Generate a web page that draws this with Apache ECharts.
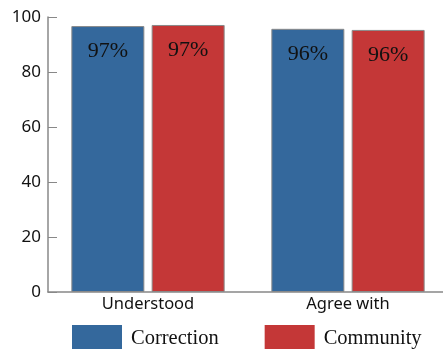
<!DOCTYPE html>
<html>
<head>
<meta charset="utf-8">
<script src="https://cdn.jsdelivr.net/npm/echarts@6/dist/echarts.min.js"></script>
<style>
  html, body { margin: 0; padding: 0; background: #fff; }
  #chart { width: 443px; height: 349px; }
</style>
</head>
<body>
<div id="chart"></div>
<script>
// data
const categories = ['Understood', 'Agree with'];
const correctionValues = [96.7, 95.7];
const communityValues = [97.1, 95.3];
const correctionLabels = ['97%', '96%'];
const communityLabels = ['97%', '96%'];

const chart = echarts.init(document.getElementById('chart'));

const barLabel = (labels) => ({
  show: true,
  position: 'insideTop',
  distance: 14,
  color: '#111',
  fontSize: 22,
  fontFamily: 'Liberation Serif',
  formatter: (p) => labels[p.dataIndex]
});

chart.setOption({
  animation: false,
  grid: { left: 48, width: 400, top: 17, bottom: 57, outerBoundsMode: 'none' },
  legend: {
    left: 67,
    top: 320,
    width: 430,
    itemWidth: 50,
    itemHeight: 27,
    itemGap: 46,
    icon: 'rect',
    itemStyle: { borderWidth: 0 },
    textStyle: { fontSize: 20.5, fontFamily: 'Liberation Serif', color: '#111', padding: [0, 0, 0, 4] },
    data: ['Correction', 'Community']
  },
  xAxis: {
    type: 'category',
    data: categories,
    axisLine: { lineStyle: { color: '#888', width: 1.5 } },
    axisTick: { inside: true, length: 7, lineStyle: { color: '#777', width: 1.5 } },
    axisLabel: { fontSize: 16.5, color: '#111', fontFamily: 'Noto Sans', margin: 4 }
  },
  yAxis: {
    type: 'value',
    min: 0,
    max: 100,
    interval: 20,
    axisLine: { show: true, lineStyle: { color: '#888', width: 1.5 } },
    axisTick: { show: true, inside: true, length: 9, lineStyle: { color: '#888' } },
    splitLine: { show: false },
    axisLabel: { fontSize: 17, color: '#111', fontFamily: 'Noto Sans', margin: 7 }
  },
  series: [
    {
      name: 'Correction',
      type: 'bar',
      data: correctionValues,
      barWidth: 73,
      barGap: '10%',
      itemStyle: { color: '#34689c', borderColor: '#8a8a8a', borderWidth: 1 },
      label: barLabel(correctionLabels)
    },
    {
      name: 'Community',
      type: 'bar',
      data: communityValues,
      barWidth: 73,
      itemStyle: { color: '#c43737', borderColor: '#8a8a8a', borderWidth: 1 },
      label: barLabel(communityLabels)
    }
  ]
});
</script>
</body>
</html>
